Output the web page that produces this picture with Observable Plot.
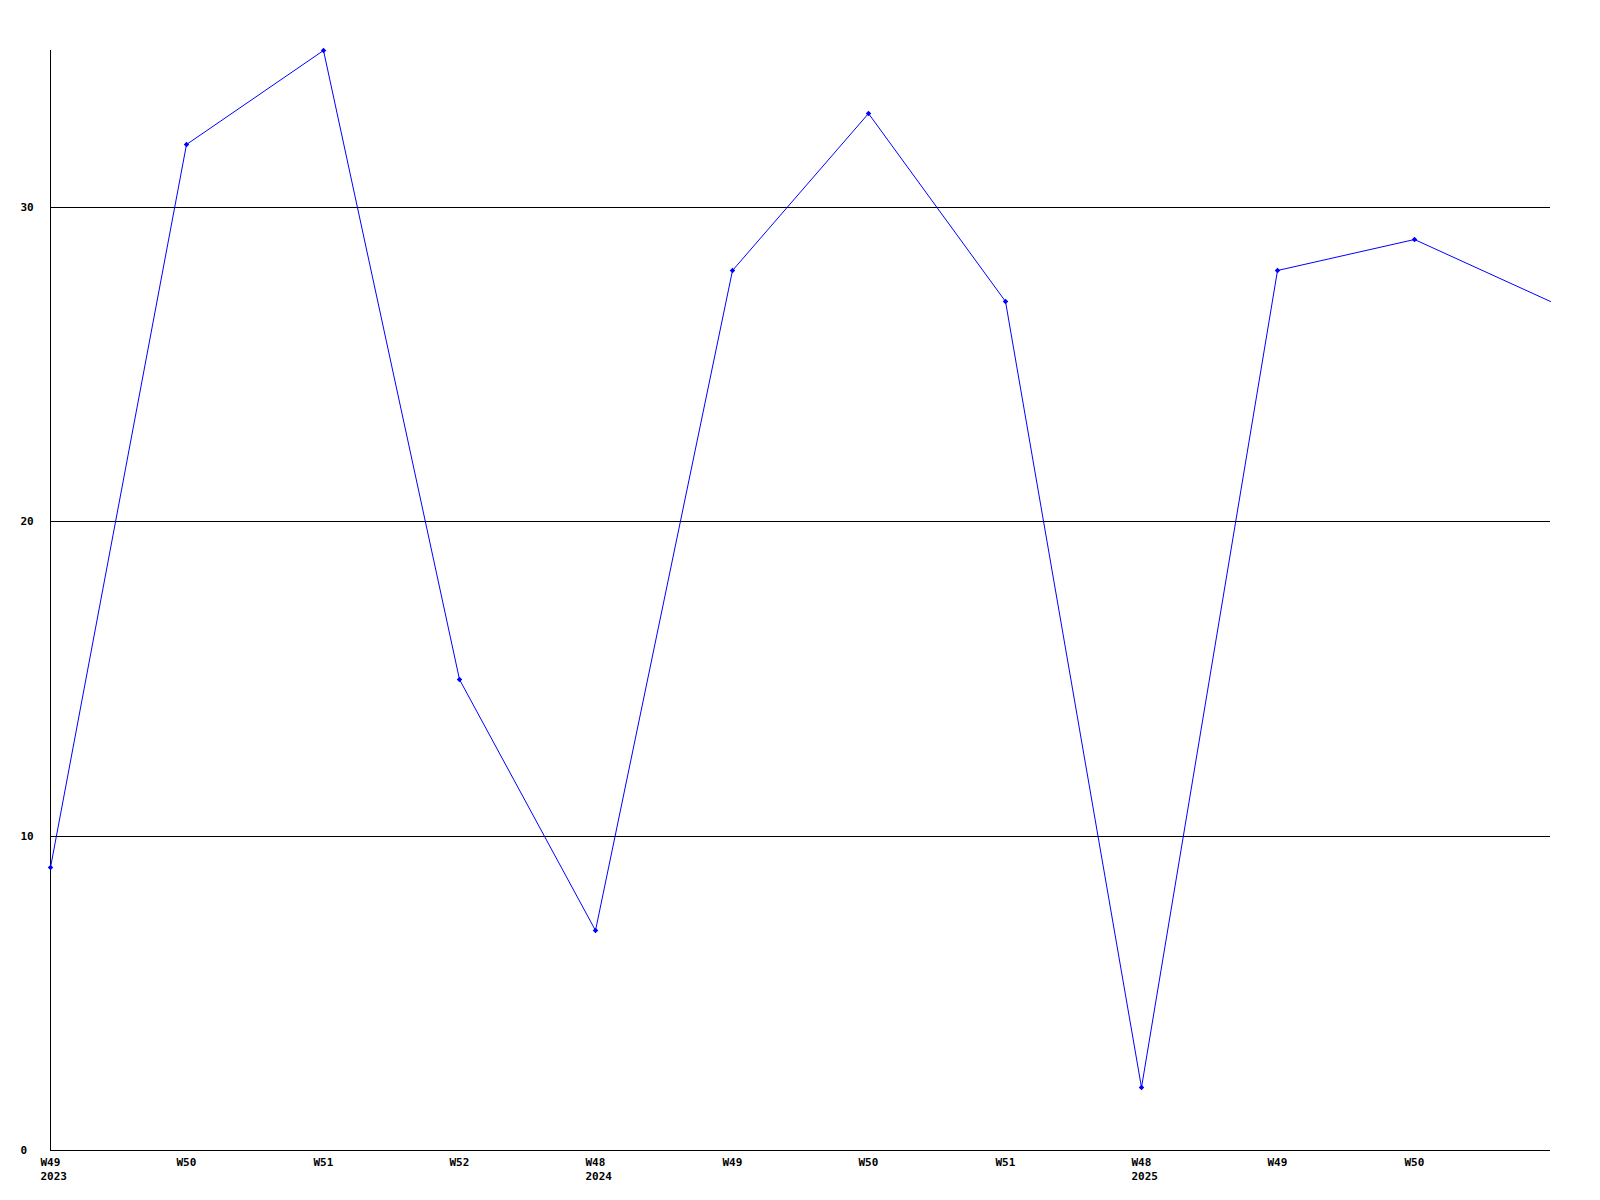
<!DOCTYPE html>
<html>
<head>
<meta charset="utf-8">
<script src="https://cdn.jsdelivr.net/npm/d3@7"></script>
<script src="https://cdn.jsdelivr.net/npm/@observablehq/plot@0.6"></script>
<style>
  body { margin: 0; background: #fff; }
</style>
</head>
<body>
<div id="chart"></div>
<script>
const weekLabels = ["W49\n2023", "W50", "W51", "W52", "W48\n2024", "W49", "W50", "W51", "W48\n2025", "W49", "W50", ""];
const values = [9, 32, 35, 15, 7, 28, 33, 27, 2, 28, 29, 27];
const yTicks = [0, 10, 20, 30];
const gridValues = [10, 20, 30];

const data = values.map((v, i) => ({i, v}));
const markerData = data.slice(0, data.length - 1);

const chart = Plot.plot({
  width: 1600,
  height: 1200,
  marginLeft: 50,
  marginRight: 50,
  marginTop: 50,
  marginBottom: 50,
  style: {fontFamily: "'DejaVu Sans Mono', monospace", fontSize: "11px", fontWeight: "bold", color: "#000", background: "#fff"},
  x: {type: "linear", domain: [0, weekLabels.length - 1], round: true},
  y: {domain: [0, 35], round: true},
  marks: [
    Plot.ruleY(gridValues, {stroke: "#000", strokeWidth: 1}),
    Plot.ruleY([0], {stroke: "#000", strokeWidth: 1}),
    Plot.ruleX([0], {y1: 0, y2: 35, stroke: "#000", strokeWidth: 1}),
    Plot.axisX({
      ticks: d3.range(weekLabels.length - 1),
      tickFormat: i => weekLabels[i],
      tickSize: 0,
      tickPadding: 5,
      textAnchor: "start",
      dx: -10,
      lineHeight: 1.3,
      fill: "#000",
      label: null
    }),
    Plot.axisY({
      ticks: yTicks,
      tickSize: 0,
      tickPadding: 30,
      textAnchor: "start",
      fill: "#000",
      label: null
    }),
    Plot.line(data, {x: "i", y: "v", stroke: "#0000ff", strokeWidth: 1}),
    Plot.dot(markerData, {x: "i", y: "v", r: 2.5, fill: "#0000ff", symbol: "diamond2", stroke: "none"})
  ]
});
document.getElementById("chart").appendChild(chart);
</script>
</body>
</html>
